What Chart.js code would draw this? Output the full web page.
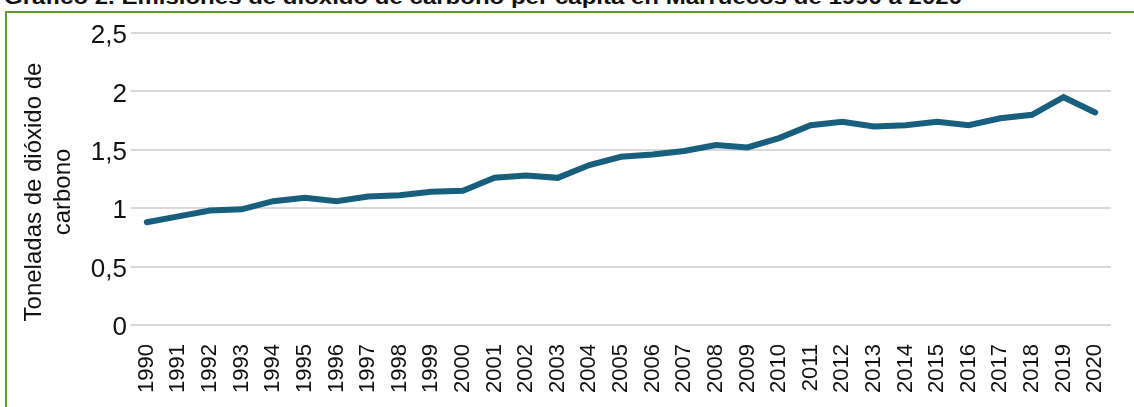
<!DOCTYPE html>
<html lang="es">
<head>
<meta charset="utf-8">
<script src="https://cdn.jsdelivr.net/npm/chart.js@4.4.1/dist/chart.umd.min.js"></script>
<style>
    html, body { margin: 0; padding: 0; background: #fff; }
    #wrap { position: relative; width: 1134px; height: 407px; overflow: hidden; }
    #frame {
        position: absolute; left: 5px; top: 11px; width: 1200px; height: 500px;
        border-top: 2px solid #5b9a2e; border-left: 2px solid #5b9a2e;
    }
    #title {
        position: absolute; left: 4px; top: -15px; white-space: nowrap;
        font-family: "Liberation Sans", Arial, sans-serif; font-weight: bold; font-size: 21px;
        color: #111; transform-origin: 0 0;
    }
    #chartBox { position: absolute; left: 0; top: 0; width: 1134px; height: 407px; }
</style>
</head>
<body>
<div id="wrap">
    <div id="frame"></div>
    <div id="title">Gráfico 2. Emisiones de dióxido de carbono per cápita en Marruecos de 1990 a 2020</div>
    <div id="chartBox"><canvas id="co2Chart"></canvas></div>
</div>
<script>
// Datos: toneladas de CO2 per cápita (Marruecos)
const years = ['1990', '1991', '1992', '1993', '1994', '1995', '1996', '1997', '1998', '1999',
    '2000', '2001', '2002', '2003', '2004', '2005', '2006', '2007', '2008', '2009',
    '2010', '2011', '2012', '2013', '2014', '2015', '2016', '2017', '2018', '2019', '2020'];
const emissions = [0.88, 0.93, 0.98, 0.99, 1.06, 1.09, 1.06, 1.10, 1.11, 1.14,
    1.15, 1.26, 1.28, 1.26, 1.37, 1.44, 1.46, 1.49, 1.54, 1.52,
    1.60, 1.71, 1.74, 1.70, 1.71, 1.74, 1.71, 1.77, 1.80, 1.95, 1.82];
const yTicks = [0, 0.5, 1, 1.5, 2, 2.5];
const yTitleLines = ['Toneladas de dióxido de', 'carbono'];

// ajuster la largeur du titre (police plus étroite dans l'original)
const titleEl = document.getElementById('title');
titleEl.style.transform = 'scaleX(' + (958 / titleEl.scrollWidth) + ')';

// titre de l'axe Y dessiné à la main pour le placer comme dans l'original
const yTitlePlugin = {
    id: 'yTitle',
    afterDraw(chart) {
        const ctx = chart.ctx;
        ctx.save();
        ctx.fillStyle = '#111';
        ctx.font = '24px "Liberation Sans", Arial, sans-serif';
        ctx.textAlign = 'center';
        ctx.textBaseline = 'middle';
        ctx.translate(34, 192);
        ctx.rotate(-Math.PI / 2);
        yTitleLines.forEach((line, i) => ctx.fillText(line, 0, i * 29));
        ctx.restore();
    }
};

new Chart(document.getElementById('co2Chart').getContext('2d'), {
    type: 'line',
    data: {
        labels: years,
        datasets: [{
            data: emissions,
            borderColor: '#185e7d',
            borderWidth: 6,
            borderCapStyle: 'round',
            pointRadius: 0,
            tension: 0,
            fill: false
        }]
    },
    options: {
        responsive: true,
        maintainAspectRatio: false,
        animation: false,
        layout: { padding: { left: 0, right: 23, top: 33, bottom: 0 } },
        plugins: {
            legend: { display: false },
            tooltip: { enabled: false }
        },
        scales: {
            x: {
                offset: true,
                grid: { display: false },
                border: { display: false },
                ticks: {
                    color: '#111',
                    font: { family: '"Liberation Sans", Arial, sans-serif', size: 22 },
                    minRotation: 90,
                    maxRotation: 90,
                    autoSkip: false,
                    padding: 11
                },
                afterFit(scale) { scale.height = 82; }
            },
            y: {
                min: 0,
                max: 2.5,
                afterBuildTicks(scale) { scale.ticks = yTicks.map(v => ({ value: v })); },
                grid: { color: '#d9d9d9', lineWidth: 2, drawTicks: false },
                border: { display: false },
                ticks: {
                    color: '#111',
                    font: { family: '"Liberation Sans", Arial, sans-serif', size: 26 },
                    padding: 4,
                    labelOffset: 3,
                    callback: v => String(v).replace('.', ',')
                },
                afterFit(scale) { scale.width = 131; }
            }
        }
    },
    plugins: [yTitlePlugin]
});
</script>
</body>
</html>
